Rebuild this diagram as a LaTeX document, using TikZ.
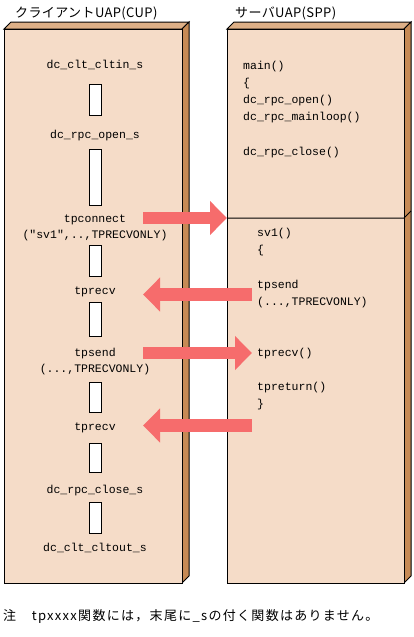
\documentclass[tikz,border=0pt]{standalone}
\usepackage{fontspec}
\setmainfont{Noto Sans CJK JP}
\newfontfamily\codefont{Liberation Mono}
\usetikzlibrary{arrows.meta}
\definecolor{face}{RGB}{245,220,200}
\definecolor{topface}{RGB}{222,176,135}
\definecolor{sideface}{RGB}{198,138,85}
\definecolor{arrowc}{RGB}{246,108,108}
\tikzset{
  code/.style={font=\codefont\fontsize{11.5}{13}\selectfont, inner sep=0pt, anchor=base},
  codeL/.style={code, anchor=base west},
  title/.style={font=\fontsize{13}{15}\selectfont, inner sep=0pt, anchor=base west},
  gapbox/.style={draw=black, fill=white, line width=1pt},
  boxline/.style={draw=black, line width=1pt, line join=miter},
  flow/.style={draw=arrowc, line width=12.5pt, -{Triangle[length=17pt,width=33pt]}},
}
\begin{document}
\begin{tikzpicture}[x=1pt,y=-1pt]
\useasboundingbox (0,0) rectangle (414,637);
% left box (client)
\filldraw[boxline, fill=topface] (4,29) -- (11,22) -- (189,22) -- (182,29) -- cycle;
\filldraw[boxline, fill=sideface] (182,29) -- (189,22) -- (189,576) -- (182,583) -- cycle;
\filldraw[boxline, fill=face] (4,29) rectangle (182,583);
% right box (server)
\filldraw[boxline, fill=topface] (227,29) -- (234,22) -- (411,22) -- (404,29) -- cycle;
\filldraw[boxline, fill=sideface] (404,29) -- (411,22) -- (411,576) -- (404,583) -- cycle;
\filldraw[boxline, fill=face] (227,29) rectangle (404,583);
\draw[boxline] (227,218) -- (404,218) -- (411,211);
% titles
\node[title] (tcup) at (15,17) {\addfontfeature{LetterSpace=3}クライアントUAP(CUP)};
\node[title] (tspp) at (235,17) {\addfontfeature{LetterSpace=3}サーバUAP(SPP)};
% client column
\node[code] (c1) at (95,68) {dc\_clt\_cltin\_s};
\draw[gapbox] (89,84) rectangle (101,115);
\node[code] (c2) at (95,138) {dc\_rpc\_open\_s};
\draw[gapbox] (89,149) rectangle (101,205);
\node[code] (c3) at (95,222) {tpconnect};
\node[code] (c3b) at (95,238) {("sv1",..,TPRECVONLY)};
\draw[gapbox] (89,245) rectangle (101,276);
\node[code] (c4) at (95,294) {tprecv};
\draw[gapbox] (89,302) rectangle (101,336);
\node[code] (c5) at (95,356) {tpsend};
\node[code] (c5b) at (95,372) {(...,TPRECVONLY)};
\draw[gapbox] (89,382) rectangle (101,412);
\node[code] (c6) at (95,430) {tprecv};
\draw[gapbox] (89,443) rectangle (101,472);
\node[code] (c7) at (95,493) {dc\_rpc\_close\_s};
\draw[gapbox] (89,502) rectangle (101,533);
\node[code] (c8) at (95,551) {dc\_clt\_cltout\_s};
% server column
\node[codeL] (s1) at (243,69) {main()};
\node[codeL] (s2) at (243,86) {\{};
\node[codeL] (s3) at (243,103) {dc\_rpc\_open()};
\node[codeL] (s4) at (243,120) {dc\_rpc\_mainloop()};
\node[codeL] (s5) at (243,155) {dc\_rpc\_close()};
\node[codeL] (v1) at (257,236) {sv1()};
\node[codeL] (v2) at (257,253) {\{};
\node[codeL] (v3) at (257,288) {tpsend};
\node[codeL] (v3b) at (257,305) {(...,TPRECVONLY)};
\node[codeL] (v4) at (257,356) {tprecv()};
\node[codeL] (v5) at (257,390) {tpreturn()};
\node[codeL] (v6) at (257,407) {\}};
% arrow endpoints
\coordinate (a1s) at (143,218);
\coordinate (a1e) at (227,218);
\coordinate (a2s) at (252,294.5);
\coordinate (a2e) at (143,294.5);
\coordinate (a3s) at (143,353);
\coordinate (a3e) at (252,353);
\coordinate (a4s) at (252,425.5);
\coordinate (a4e) at (143,425.5);
\draw[flow] (a1s) -- (a1e);
\draw[flow] (a2s) -- (a2e);
\draw[flow] (a3s) -- (a3e);
\draw[flow] (a4s) -- (a4e);
% note
\node[title] (note) at (3,620) {\addfontfeature{LetterSpace=10}注　tpxxxx関数には，末尾に\_sの付く関数はありません。};
\end{tikzpicture}
\end{document}
